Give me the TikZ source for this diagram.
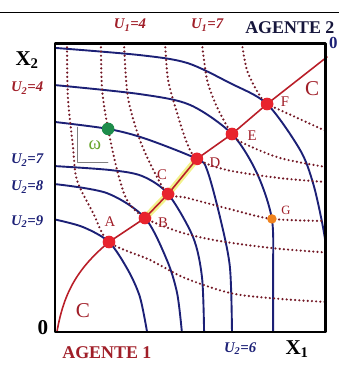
\documentclass[tikz,border=0pt]{standalone}
\usepackage{fontspec}
\setmainfont{Liberation Serif}
\usepackage{xcolor}
\usepackage{tikz}
\usetikzlibrary{arrows.meta, positioning, calc}

\definecolor{navy}{RGB}{28,32,118}
\definecolor{maroon}{RGB}{115,25,38}
\definecolor{redline}{RGB}{185,30,40}
\definecolor{redpt}{RGB}{232,35,45}
\definecolor{labred}{RGB}{160,30,40}
\definecolor{greenpt}{RGB}{30,140,75}
\definecolor{omegagreen}{RGB}{105,165,45}
\definecolor{orangept}{RGB}{240,130,30}
\definecolor{hilite}{RGB}{240,240,120}
\definecolor{agentdark}{RGB}{22,22,60}

\begin{document}
\begin{tikzpicture}[line cap=round, line join=round,
    indiff/.style={navy, line width=1.8pt},
    dotcurve/.style={maroon, line width=2.3pt, dash pattern=on 0pt off 4pt},
    contract/.style={redline, line width=1.5pt},
    eqpt/.style={circle, fill=redpt, inner sep=0pt, minimum size=12pt},
    ptlabel/.style={labred, font=\fontsize{14}{14}\selectfont},
    ulabel/.style={font=\fontsize{14}{14}\selectfont\bfseries\itshape},
    biglabel/.style={font=\fontsize{20}{20}\selectfont\bfseries},
    agent/.style={font=\fontsize{17}{17}\selectfont\bfseries}]

    \useasboundingbox (-1.833,-1.167) rectangle (9.467,11.067);

    % Top rule
    \draw[line width=1.2pt] (-1.833,10.65) -- (9.467,10.65);

    % Origins
    \coordinate (O1) at (0.07,0.03);
    \coordinate (O2) at (9.07,9.17);

    % Equilibrium points
    \node[eqpt] (A) at (1.8,3.0) {};
    \node[eqpt] (B) at (3.0,3.8) {};
    \node[eqpt] (C) at (3.77,4.6) {};
    \node[eqpt] (D) at (4.73,5.77) {};
    \node[eqpt] (E) at (5.9,6.6) {};
    \node[eqpt] (F) at (7.07,7.6) {};

    \begin{scope}
    \clip (0,0) rectangle (9.03,9.63);

    % Highlighted part of the contract curve
    \draw[hilite, line width=6pt, opacity=0.85, xshift=-1.5pt, yshift=1.5pt]
        (B.center) -- (C.center) -- (D.center);

    % Blue indifference curves
    \draw[indiff] plot[smooth] coordinates {(0,3.75) (0.93,3.5) (1.8,3.0) (2.43,2.07) (2.83,1.17) (3.07,0)};
    \draw[indiff] plot[smooth] coordinates {(0,4.93) (1.73,4.63) (3.0,3.8) (3.73,2.4) (4.07,1.3) (4.23,0)};
    \draw[indiff] plot[smooth] coordinates {(0,5.53) (1.83,5.4) (2.9,5.2) (3.77,4.6) (4.6,3.17) (4.9,1.83) (4.97,0)};
    \draw[indiff] plot[smooth] coordinates {(0,7.0) (1.77,6.77) (3.0,6.45) (4.73,5.77) (5.07,5.4) (5.5,3.83) (5.83,2.17) (5.9,0)};
    \draw[indiff] plot[smooth] coordinates {(0,8.23) (2.83,7.93) (4.5,7.57) (5.9,6.6) (6.73,5.3) (7.23,3.77) (7.27,2.0) (7.27,0)};
    \draw[indiff] plot[smooth] coordinates {(0,9.47) (2.83,9.23) (4.4,8.97) (5.83,8.3) (7.07,7.6) (8.17,6.07) (8.6,4.97) (8.9,3.67) (9.1,2.5)};

    % Dotted indifference curves
    \draw[dotcurve] plot[smooth] coordinates {(0.4,9.63) (0.43,7.83) (0.6,6.17) (0.73,5.07) (1.27,3.97) (1.8,3.0) (3.17,2.4) (4.33,1.8) (5.83,1.3) (7.17,1.13) (9.03,1.0)};
    \draw[dotcurve] plot[smooth] coordinates {(1.53,9.63) (1.57,8.07) (1.77,6.77) (2.07,5.4) (2.4,4.4) (3.0,3.8) (4.17,3.33) (5.27,3.07) (6.4,2.9) (7.5,2.77) (9.03,2.65)};
    \draw[dotcurve] plot[smooth] coordinates {(2.3,9.63) (2.43,7.83) (2.83,6.4) (3.33,5.3) (3.77,4.6) (4.4,4.47) (5.93,4.07) (7.23,3.77) (9.03,3.7)};
    \draw[dotcurve] plot[smooth] coordinates {(3.67,9.63) (3.77,8.4) (4.07,7.3) (4.4,6.3) (4.73,5.77) (5.73,5.4) (7.5,5.13) (9.03,5.0)};
    \draw[dotcurve] plot[smooth] coordinates {(4.9,9.63) (5.07,8.4) (5.4,7.5) (5.9,6.6) (6.27,6.3) (7.5,5.8) (9.03,5.5)};
    \draw[dotcurve] plot[smooth] coordinates {(6.23,9.63) (6.4,8.73) (6.77,7.97) (7.07,7.6) (7.5,7.4) (9.03,6.7)};
    \end{scope}

    % Contract curve
    \draw[contract] (O1) to[out=80,in=220] (A.center) -- (B.center) -- (C.center)
        -- (D.center) -- (E.center) -- (F.center) -- (O2);

    % Box
    \draw[line width=2.8pt] (0,0) rectangle (9.03,9.63);

    % Markers on top
    \foreach \p in {A,B,C,D,E,F}{
        \fill[redpt] (\p) circle (0.2);
    }
    \node[circle, fill=greenpt, inner sep=0pt, minimum size=12pt] (w) at (1.77,6.77) {};
    \node[circle, fill=orangept, inner sep=0pt, minimum size=9pt] (G) at (7.23,3.77) {};

    % Endowment bracket
    \draw[gray, line width=0.5pt] (0.73,6.83) -- (0.73,5.67) -- (1.77,5.67);
    \node[omegagreen, font=\fontsize{18}{18}\selectfont] (wlab) at (1.33,6.23) {ω};

    % Point labels
    \node[ptlabel] (labA) at (1.83,3.67) {A};
    \node[ptlabel] (labB) at (3.6,3.63) {B};
    \node[ptlabel] (labC) at (3.57,5.23) {C};
    \node[ptlabel] (labD) at (5.33,5.63) {D};
    \node[ptlabel] (labE) at (6.57,6.53) {E};
    \node[ptlabel] (labF) at (7.67,7.67) {F};
    \node[ptlabel, font=\fontsize{12}{12}\selectfont] (labG) at (7.7,4.07) {G};
    \node[labred, font=\fontsize{20}{20}\selectfont] (curveC1) at (0.93,0.7) {C};
    \node[labred, font=\fontsize{20}{20}\selectfont] (curveC2) at (8.57,8.1) {C};

    % Utility labels
    \node[ulabel, labred] (u14) at (2.5,10.23) {U\textsubscript{1}=4};
    \node[ulabel, labred] (u17) at (5.07,10.23) {U\textsubscript{1}=7};
    \node[ulabel, labred] (u24) at (-0.93,8.13) {U\textsubscript{2}=4};
    \node[ulabel, navy] (u27) at (-0.93,5.73) {U\textsubscript{2}=7};
    \node[ulabel, navy] (u28) at (-0.93,4.83) {U\textsubscript{2}=8};
    \node[ulabel, navy] (u29) at (-0.93,3.67) {U\textsubscript{2}=9};
    \node[ulabel, navy] (u26) at (6.17,-0.55) {U\textsubscript{2}=6};

    % Axes and agents
    \node[biglabel] (x2) at (-0.93,9.07) {X\textsubscript{2}};
    \node[biglabel] (x1) at (8.07,-0.58) {X\textsubscript{1}};
    \node[biglabel] (zero1) at (-0.4,0.13) {0};
    \node[navy, font=\fontsize{16}{16}\selectfont\bfseries] (zero2) at (9.28,9.62) {0};
    \node[agent, labred] (ag1) at (1.73,-0.7) {AGENTE 1};
    \node[agent, agentdark] (ag2) at (7.83,10.13) {AGENTE 2};

\end{tikzpicture}
\end{document}
